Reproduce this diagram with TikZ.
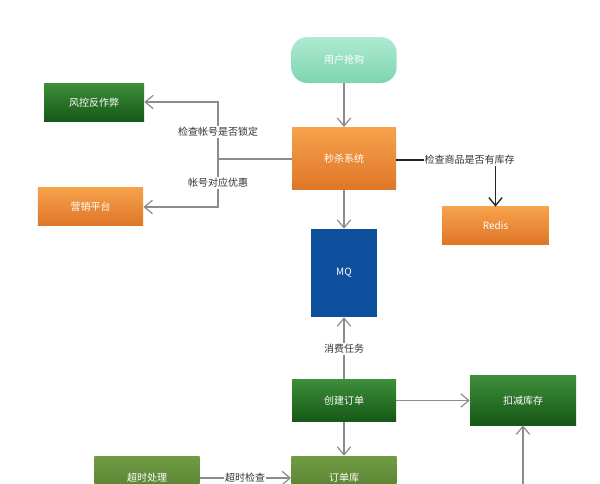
\documentclass[tikz,border=0pt]{standalone}
\usepackage{fontspec}
\setmainfont{Noto Sans CJK SC}
\usetikzlibrary{arrows.meta,calc}
\definecolor{orgT}{HTML}{F7A24C}
\definecolor{orgB}{HTML}{DE7628}
\definecolor{grnT}{HTML}{3E8E3A}
\definecolor{grnB}{HTML}{155716}
\definecolor{olvT}{HTML}{719C45}
\definecolor{olvB}{HTML}{517A2C}
\definecolor{mntT}{HTML}{AEEBD2}
\definecolor{mntB}{HTML}{7FD4AF}
\definecolor{mqblue}{HTML}{0D4F9C}
\definecolor{lineg}{HTML}{8C8C8C}
\definecolor{txtg}{HTML}{333333}
\tikzset{
  box/.style={rectangle, inner sep=0pt, text=white, font=\fontsize{7.5pt}{9pt}\selectfont},
  orangebox/.style={box, top color=orgT, bottom color=orgB},
  greenbox/.style={box, top color=grnT, bottom color=grnB},
  olivebox/.style={box, top color=olvT, bottom color=olvB},
  mintbox/.style={box, top color=mntT, bottom color=mntB, rounded corners=12pt},
  arr/.style={draw=lineg, line width=1.1pt, -{Straight Barb[length=6pt,width=10pt,line width=0.9pt]}},
  ln/.style={draw=lineg, line width=1.1pt},
  lbl/.style={fill=white, text=txtg, inner sep=1pt, font=\fontsize{7.5pt}{9pt}\selectfont},
}
\begin{document}
\begin{tikzpicture}[x=0.75pt,y=-0.75pt]
\useasboundingbox (0,0) rectangle (600,483);
\clip (0,0) rectangle (600,483);
\fill[white] (0,0) rectangle (600,483);
% nodes
\node[mintbox, minimum width=79pt, minimum height=34.5pt] (user) at (344,60) {用户抢购};
\node[orangebox, minimum width=78pt, minimum height=47pt] (seckill) at (344,158.5) {秒杀系统};
\node[greenbox, minimum width=75pt, minimum height=29pt] (risk) at (94,102.5) {风控反作弊};
\node[orangebox, minimum width=79pt, minimum height=29pt] (market) at (90.5,206.5) {营销平台};
\node[orangebox, minimum width=80pt, minimum height=28pt] (redis) at (495.5,225.5) {Redis};
\node[box, fill=mqblue, minimum width=49.5pt, minimum height=66pt] (mq) at (344,273) {MQ};
\node[greenbox, minimum width=78pt, minimum height=32pt] (create) at (344,400.5) {创建订单};
\node[greenbox, minimum width=79.5pt, minimum height=37pt] (deduct) at (523,400.5) {扣减库存};
\node[olivebox, minimum width=79pt, minimum height=33pt] (timeout) at (147,478) {超时处理};
\node[olivebox, minimum width=79pt, minimum height=33pt] (orderdb) at (344,478) {订单库};
\coordinate (J) at (218,159);
\coordinate (bottomD) at (523,490);
% connectors
\draw[arr] (user) -- (seckill);
\draw[ln] (seckill.west |- J) -- (J);
\draw[arr] (J) -- (218,102) -- (risk.east |- 0,102);
\draw[arr] (J) -- (218,207) -- (market.east |- 0,207);
\node[lbl] (l1) at (218,132) {检查帐号是否锁定};
\node[lbl] (l2) at (218,183) {帐号对应优惠};
\node[lbl, inner sep=0.5pt] (l3) at (469.5,160) {检查商品是否有库存};
\draw[draw=black!85, line width=1.1pt] (seckill.east |- l3) -- (l3.west);
\draw[draw=black!85, line width=1.2pt, -{Straight Barb[length=6pt,width=10pt,line width=1pt]}] (redis.north |- l3.south) -- (redis.north);
\draw[arr] (seckill) -- (mq);
\draw[arr] (create) -- (mq);
\node[lbl] (l4) at (344,349) {消费任务};
\draw[arr] (create) -- (deduct.west |- create);
\draw[arr] (create) -- (orderdb);
\draw[arr] (timeout.east) -- (orderdb.west);
\node[lbl] (l5) at (245,478) {超时检查};
\draw[arr] (bottomD) -- (deduct.south);
\end{tikzpicture}
\end{document}
